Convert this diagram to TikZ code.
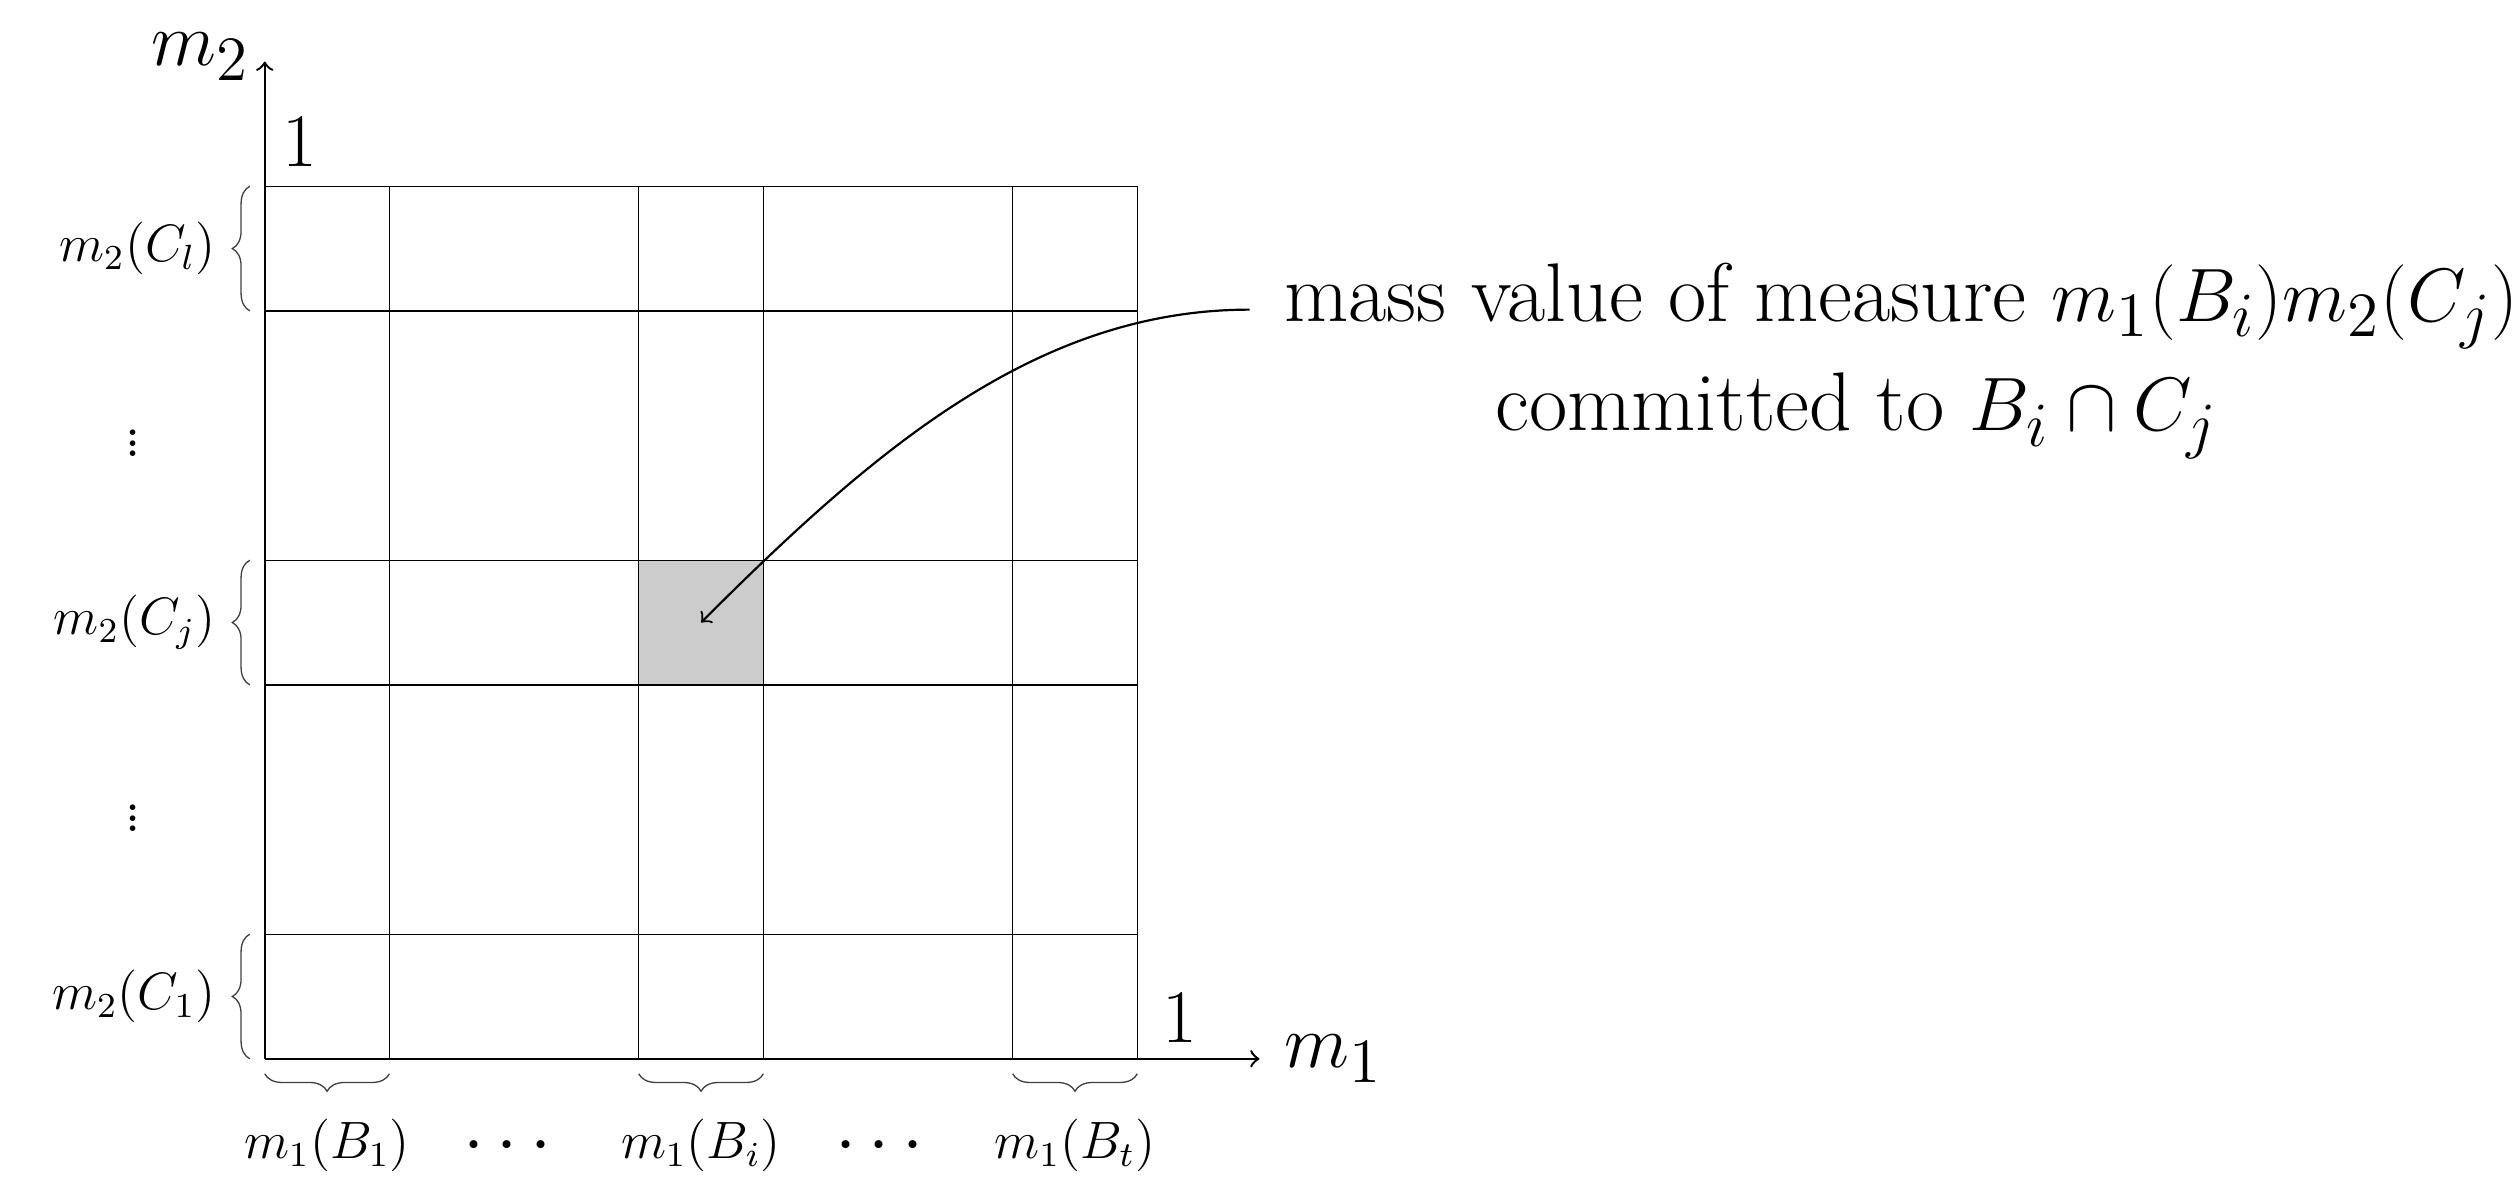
\documentclass[tikz,border=0pt]{standalone}
\usetikzlibrary{decorations.pathreplacing,calc}
\begin{document}
\begin{tikzpicture}[
  gridline/.style={line width=0.3pt},
  axisline/.style={line width=0.55pt,->},
  brc/.style={decorate,decoration={brace,amplitude=1.4mm},line width=0.3pt,black!75},
  smalllab/.style={font=\large},
  biglab/.style={font=\fontsize{19}{25}\selectfont},
  onelab/.style={font=\LARGE},
  dotslab/.style={font=\fontsize{26}{30}\selectfont,scale=0.6}]
\useasboundingbox (-2.124,-0.952) rectangle (18.06,8.494);
% shaded cell
\node[fill=black!20,minimum size=1cm,inner sep=0pt,outer sep=0pt] (cell) at (3.5,3.5) {};
% grid
\foreach \v in {1,3,4,6,7} {
  \draw[gridline] (\v,0) -- (\v,7);
  \draw[gridline] (0,\v) -- (7,\v);
}
% axes
\coordinate (O) at (0,0);
\coordinate (xe) at (7.98,0);
\coordinate (ye) at (0,8.0);
\draw[axisline] (O) -- (xe);
\draw[axisline] (O) -- (ye);
\node[biglab,anchor=west] (m1) at ($(xe)+(0.08,0)$) {$m_1$};
\node[biglab,anchor=east] (m2) at ($(ye)+(0,0.04)$) {$m_2$};
\node[onelab] (oney) at (0.28,7.36) {1};
\node[onelab] (onex) at (7.34,0.33) {1};
% left braces
\draw[brc] (-0.12,6) -- (-0.12,7);
\draw[brc] (-0.12,3) -- (-0.12,4);
\draw[brc] (-0.12,0) -- (-0.12,1);
\node[smalllab,anchor=east] (cl) at (-0.27,6.5) {$m_2(C_l)$};
\node[smalllab,anchor=east] (cj) at (-0.27,3.5) {$m_2(C_j)$};
\node[smalllab,anchor=east] (c1) at (-0.27,0.5) {$m_2(C_1)$};
\node[dotslab] (vd1) at (-1.06,5.0) {$\vdots$};
\node[dotslab] (vd2) at (-1.06,1.99) {$\vdots$};
% bottom braces
\draw[brc] (1,-0.12) -- (0,-0.12);
\draw[brc] (4,-0.12) -- (3,-0.12);
\draw[brc] (7,-0.12) -- (6,-0.12);
\node[smalllab,anchor=base] (b1) at (0.5,-0.8) {$m_1(B_1)$};
\node[biglab,anchor=base] (hd1) at (1.945,-0.84) {$\cdots$};
\node[smalllab,anchor=base] (bi) at (3.5,-0.8) {$m_1(B_i)$};
\node[biglab,anchor=base] (hd2) at (4.93,-0.84) {$\cdots$};
\node[smalllab,anchor=base] (bt) at (6.5,-0.8) {$m_1(B_t)$};
% annotation
\node[biglab,align=center] (txt) at (13.13,5.6) {mass value of measure $m_1(B_i)m_2(C_j)$\\ committed to $B_i\cap C_j$\hspace*{0.72cm}};
\coordinate (as) at (7.9,6.01);
\draw[->,line width=0.5pt] (as) .. controls (6.2,6.01) and (4.9,4.9) .. (cell.center);
\end{tikzpicture}
\end{document}
